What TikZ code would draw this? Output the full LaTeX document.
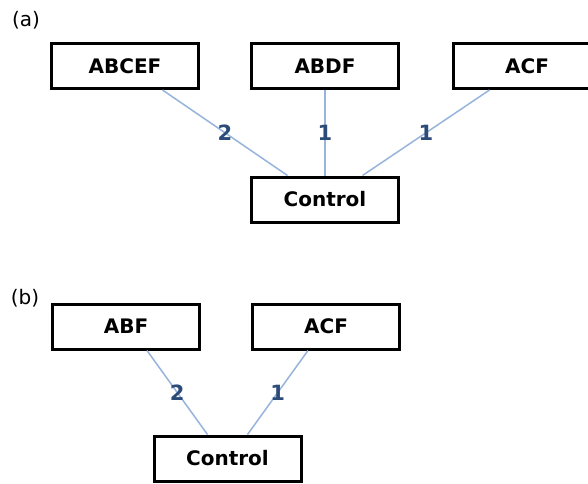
\documentclass[tikz,border=0pt]{standalone}
\usepackage{fontspec}
\setmainfont{DejaVu Sans}
\usetikzlibrary{calc}

\definecolor{linkblue}{RGB}{150,180,220}
\definecolor{numblue}{RGB}{45,75,120}

\tikzset{
    group/.style={draw, line width=3pt, minimum width=147pt, minimum height=45pt, inner sep=0pt, font=\fontsize{20}{24}\selectfont\bfseries},
    link/.style={linkblue, line width=1.5pt},
    count/.style={numblue, inner sep=1pt, font=\fontsize{21}{24}\selectfont\bfseries},
    panel/.style={font=\fontsize{20}{24}\selectfont}
}

\begin{document}
\begin{tikzpicture}[x=1pt, y=-1pt]
    \useasboundingbox (0,0) rectangle (588,483);
    \clip (0,0) rectangle (588,483);
    \fill[white] (0,0) rectangle (588,483);

    \node[panel] (pa) at (26,20) {(a)};
    \node[group] (abcef) at (125,66) {ABCEF};
    \node[group] (abdf) at (325,66) {ABDF};
    \node[group] (acfa) at (527,66) {ACF};
    \node[group] (ctrla) at (325,199.5) {Control};
    \draw[link] ($(abcef.south)!0.5!(abcef.south east)$) -- node[count]{2} ($(ctrla.north)!0.5!(ctrla.north west)$);
    \draw[link] (abdf.south) -- node[count]{1} (ctrla.north);
    \draw[link] ($(acfa.south)!0.5!(acfa.south west)$) -- node[count]{1} ($(ctrla.north)!0.5!(ctrla.north east)$);

    \node[panel] (pb) at (25,298) {(b)};
    \node[group] (abf) at (126,326.5) {ABF};
    \node[group] (acfb) at (326,326.5) {ACF};
    \node[group] (ctrlb) at (227.5,458.5) {Control};
    \draw[link] ([xshift=21pt]abf.south) -- node[count]{2} ([xshift=-20pt]ctrlb.north);
    \draw[link] ([xshift=-18pt]acfb.south) -- node[count]{1} ([xshift=20pt]ctrlb.north);

\end{tikzpicture}
\end{document}
